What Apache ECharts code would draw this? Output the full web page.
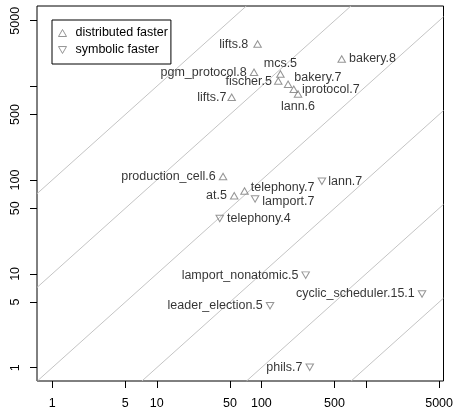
<!DOCTYPE html>
<html><head><meta charset="utf-8">
<script src="https://cdn.jsdelivr.net/npm/echarts@6/dist/echarts.min.js"></script>
<style>html,body{margin:0;padding:0;background:#fff}#c{width:456px;height:413px}</style>
</head><body><div id="c"></div>
<script>
// ---- data ----
const names = ['lifts.8','bakery.8','pgm_protocol.8','mcs.5','fischer.5','bakery.7','iprotocol.7','lann.6','lifts.7','production_cell.6','at.5','telephony.7','lamport.7','telephony.4','lann.7','lamport_nonatomic.5','cyclic_scheduler.15.1','leader_election.5','phils.7'];
const xValues = [92, 586, 85, 152, 145, 180, 204, 224, 52, 43, 55, 69, 87, 40, 379, 265, 3435, 121, 290];
const yValues = [2820, 1955, 1410, 1350, 1140, 1050, 929, 828, 764, 109, 68, 76.5, 63, 39, 97, 9.7, 6.1, 4.58, 1.01];
const fasterGroup = ['distributed','distributed','distributed','distributed','distributed','distributed','distributed','distributed','distributed','distributed','distributed','distributed','symbolic','symbolic','symbolic','symbolic','symbolic','symbolic','symbolic'];
const xTicks = [1, 5, 10, 50, 100, 500, 1000, 5000];
const xTickLabels = [1, 5, 10, 50, 100, 500, 5000];
const yTicks = [1, 5, 10, 50, 100, 500, 1000, 5000];
const yTickLabels = [1, 5, 10, 50, 100, 500, 5000];
const diagonalPowers = [-3, -2, -1, 0, 1, 2];
const legendNames = ['distributed faster', 'symbolic faster'];

// ---- layout (label placement, separate from values) ----
const labelSide = ['left','right','left','top','left','right','right','bottom','left','left','left','right','right','right','right','left','left','left','left'];
const labelDist = [5,3,3,0,2,2,4,2,1,3,3,2,3,3,2,3,3,3,3];
const labelNudge = [[0,0],[0,0],[0,0],[0,0],[0,1],[0,-7],[0,0],[0,0],[0,0],[0,0],[0,0],[0,-3],[0,3],[0,0],[0,0],[0,0],[0,0],[0,0],[0,0]];

const FONT = '"Liberation Sans", Arial, Helvetica, sans-serif';
const FS = 12.5;
const X_MIN = 0.716, X_MAX = 5510, Y_MIN = 0.721, Y_MAX = 7180;
const MARK = '#7a7a7a';

function pointsFor(group) {
  const out = [];
  for (let i = 0; i < names.length; i++) {
    if (fasterGroup[i] !== group) continue;
    out.push({
      name: names[i],
      value: [xValues[i], yValues[i]],
      label: { position: labelSide[i], distance: labelDist[i], offset: labelNudge[i] }
    });
  }
  return out;
}

const diagSeries = diagonalPowers.map(p => {
  const c = Math.pow(10, p);
  const x0 = Math.max(X_MIN, Y_MIN / c);
  const x1 = Math.min(X_MAX, Y_MAX / c);
  return {
    type: 'line', silent: true, symbol: 'none', animation: false,
    lineStyle: { color: '#c4c4c4', width: 1 },
    data: [[x0, c * x0], [x1, c * x1]], z: 1
  };
});

const markerStyle = { color: 'rgba(0,0,0,0)', borderColor: MARK, borderWidth: 1 };
const labelStyle = { show: true, formatter: '{b}', color: '#000', fontSize: FS, fontFamily: FONT };

const chart = echarts.init(document.getElementById('c'), null, { renderer: 'canvas' });
chart.setOption({
  animation: false,
  backgroundColor: '#fff',
  grid: { left: 37, right: 9, top: 6, bottom: 32, show: true, borderColor: '#000', borderWidth: 1, backgroundColor: 'transparent' },
  legend: {
    orient: 'vertical', left: 52, top: 20,
    padding: [6, 3, 7, 6], itemWidth: 8, itemHeight: 7, itemGap: 3,
    borderColor: '#000', borderWidth: 1, borderRadius: 0,
    backgroundColor: '#fff',
    itemStyle: { color: 'rgba(0,0,0,0)', borderColor: MARK, borderWidth: 1 },
    textStyle: { fontSize: FS, color: '#000', fontFamily: FONT, lineHeight: 14, padding: [0, 0, 0, 4] },
    selectedMode: false,
    data: [
      { name: legendNames[0], icon: 'triangle' },
      { name: legendNames[1], icon: 'path://M0,0L10,0L5,8.66Z' }
    ]
  },
  xAxis: {
    type: 'log', logBase: 10, min: X_MIN, max: X_MAX,
    axisLine: { show: false },
    axisTick: { show: true, inside: false, length: 7, lineStyle: { color: '#000' }, customValues: xTicks },
    axisLabel: { show: true, margin: 16, color: '#000', fontSize: FS, fontFamily: FONT, customValues: xTickLabels, formatter: v => String(Math.round(v)) },
    splitLine: { show: false }, minorTick: { show: false }
  },
  yAxis: {
    type: 'log', logBase: 10, min: Y_MIN, max: Y_MAX,
    axisLine: { show: false },
    axisTick: { show: true, inside: false, length: 7, lineStyle: { color: '#000' }, customValues: yTicks },
    axisLabel: { show: true, margin: 15, rotate: 90, color: '#000', fontSize: FS, fontFamily: FONT, customValues: yTickLabels, formatter: v => String(Math.round(v)) },
    splitLine: { show: false }, minorTick: { show: false }
  },
  series: diagSeries.concat([
    {
      name: legendNames[0], type: 'scatter', symbol: 'triangle', symbolSize: [7.5, 6.5],
      itemStyle: markerStyle, label: labelStyle, emphasis: { disabled: true }, z: 3,
      data: pointsFor('distributed')
    },
    {
      name: legendNames[1], type: 'scatter', symbol: 'triangle', symbolRotate: 180, symbolSize: [7.5, 6.5],
      itemStyle: markerStyle, label: labelStyle, emphasis: { disabled: true }, z: 3,
      data: pointsFor('symbolic')
    }
  ])
});
</script></body></html>
